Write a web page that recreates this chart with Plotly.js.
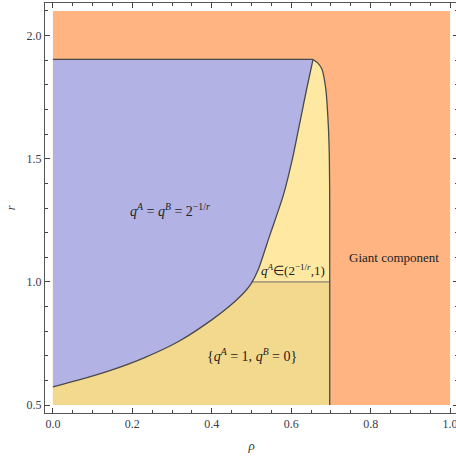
<!DOCTYPE html>
<html>
<head>
<meta charset="utf-8">
<script src="https://cdn.plot.ly/plotly-3.0.1.min.js"></script>
<style>
html, body { margin:0; padding:0; overflow:hidden; background:#fff; }
#chart { width:458px; height:460px; }
</style>
</head>
<body>
<div id="chart"></div>
<script>
// Boundary between q^A=q^B=2^{-1/r} region and the rest (rho, r)
const blueRho = [0, 0.063, 0.147, 0.231, 0.315, 0.399, 0.445, 0.483, 0.5, 0.517, 0.546, 0.580, 0.605, 0.622, 0.639, 0.655];
const blueR   = [0.574, 0.601, 0.642, 0.693, 0.757, 0.845, 0.902, 0.960, 0.995, 1.050, 1.189, 1.351, 1.514, 1.649, 1.784, 1.903];
// Right boundary (giant component threshold)
const rightRho = [0.655, 0.666, 0.677, 0.687, 0.693, 0.696, 0.697, 0.697];
const rightR   = [1.903, 1.890, 1.865, 1.784, 1.649, 1.514, 1.300, 0.5];
// Plateau level and split level
const rTop = 1.903;
const rSplit = 1.0;
// Whole domain
const rhoDomain = [0, 1];
const rDomain = [0.5, 2.1];
const xTicks = [0, 0.2, 0.4, 0.6, 0.8, 1.0];
const yTicks = [0.5, 1.0, 1.5, 2.0];

const cOrange = '#FFB482', cBlue = '#B2B2E4', cYellow = '#FFE9A2', cTan = '#F2D98E';
const lineCol = '#4a4a4a';

const rhoEdge = rightRho[rightRho.length - 1];
const spl = {shape:'spline', smoothing:0.7};

const traces = [];
// Giant component background
traces.push({x:[rhoDomain[0], rhoDomain[1], rhoDomain[1], rhoDomain[0]], y:[rDomain[0], rDomain[0], rDomain[1], rDomain[1]],
  fill:'toself', fillcolor:cOrange, mode:'none', type:'scatter', hoverinfo:'skip'});
// Yellow: everything left of the right boundary
traces.push({x:rightRho, y:rightR, fill:'tozerox', fillcolor:cYellow, mode:'lines',
  line:Object.assign({width:0, color:cYellow}, spl), type:'scatter', hoverinfo:'skip'});
// Lower tan region (r < 1)
traces.push({x:[rhoDomain[0], rhoEdge, rhoEdge, rhoDomain[0]], y:[rDomain[0], rDomain[0], rSplit, rSplit],
  fill:'toself', fillcolor:cTan, mode:'none', type:'scatter', hoverinfo:'skip'});
// Blue region: left of the blue curve
traces.push({x:blueRho, y:blueR, fill:'tozerox', fillcolor:cBlue, mode:'lines',
  line:Object.assign({width:0, color:cBlue}, spl), type:'scatter', hoverinfo:'skip'});
// r = 1 split line
traces.push({x:[0.5, rhoEdge], y:[rSplit, rSplit], mode:'lines', line:{color:'#6e6e6e', width:1}, hoverinfo:'skip'});
// Outline: top plateau, blue curve, right boundary
traces.push({x:[rhoDomain[0], blueRho[blueRho.length-1]], y:[rTop, rTop], mode:'lines', line:{color:lineCol, width:1.3}, hoverinfo:'skip'});
traces.push({x:blueRho, y:blueR, mode:'lines', line:Object.assign({color:lineCol, width:1.3}, spl), hoverinfo:'skip'});
traces.push({x:rightRho, y:rightR, mode:'lines', line:Object.assign({color:lineCol, width:1.3}, spl), hoverinfo:'skip'});

const serif = '"Liberation Serif", "Times New Roman", serif';
const axisCommon = {
  showgrid:false, zeroline:false, showline:true, linecolor:'#555', linewidth:1,
  mirror:'allticks', ticks:'inside', ticklen:5, tickwidth:1, tickcolor:'#444',
  tickfont:{family:serif, size:12, color:'#3a3a4a'}, tickformat:'.1f'
};
const layout = {
  width:458, height:460,
  margin:{l:45, r:0, t:3, b:47},
  showlegend:false,
  paper_bgcolor:'#fff', plot_bgcolor:'#fff',
  font:{family:serif},
  xaxis:Object.assign({}, axisCommon, {range:[-0.02, 1.02], tickvals:xTicks,
    minor:{dtick:0.05, tick0:0, ticks:'inside', ticklen:3, tickcolor:'#444', showgrid:false},
    title:{text:'<i>ρ</i>', font:{family:serif, size:13, color:'#333'}, standoff:10}}),
  yaxis:Object.assign({}, axisCommon, {range:[0.468, 2.132], tickvals:yTicks,
    minor:{dtick:0.1, tick0:0, ticks:'inside', ticklen:3, tickcolor:'#444', showgrid:false},
    title:{text:'<i>r</i>', font:{family:serif, size:12, color:'#333'}, standoff:8}}),
  annotations:[
    {x:0.294, y:1.29, xref:'x', yref:'y', showarrow:false,
     text:'<i>q</i><sup><i>A</i></sup> = <i>q</i><sup><i>B</i></sup> = 2<sup>−1/<i>r</i></sup>',
     font:{family:serif, size:14, color:'#222'}},
    {x:0.604, y:1.05, xref:'x', yref:'y', showarrow:false,
     text:'<i>q</i><sup><i>A</i></sup>∈(2<sup>−1/<i>r</i></sup>,1)',
     font:{family:serif, size:13, color:'#222'}},
    {x:0.5, y:0.705, xref:'x', yref:'y', showarrow:false,
     text:'{<i>q</i><sup><i>A</i></sup> = 1, <i>q</i><sup><i>B</i></sup> = 0}',
     font:{family:serif, size:14, color:'#222'}},
    {x:0.858, y:1.1, xref:'x', yref:'y', showarrow:false,
     text:'Giant component',
     font:{family:serif, size:13, color:'#222'}}
  ]
};
Plotly.newPlot('chart', traces, layout, {displayModeBar:false, staticPlot:true});
</script>
</body>
</html>
